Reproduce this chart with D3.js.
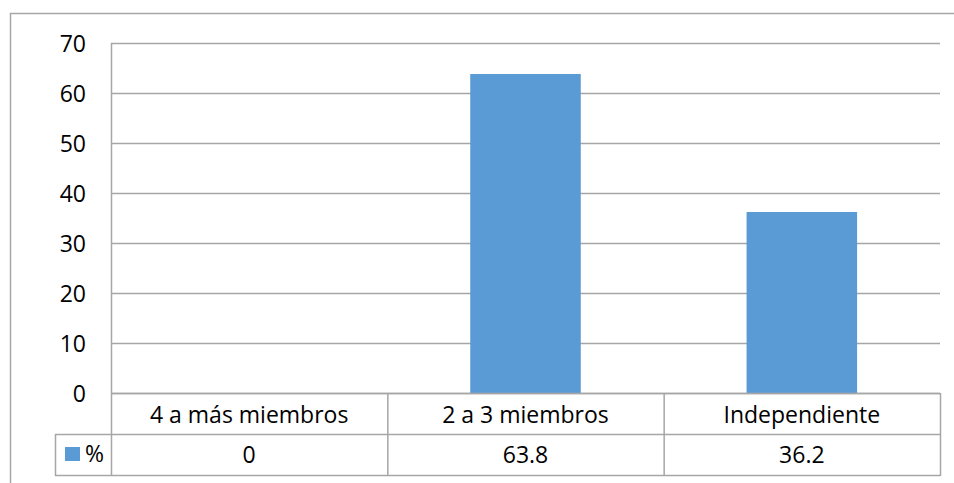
<!DOCTYPE html>
<html>
<head>
<meta charset="utf-8">
<script src="https://cdn.jsdelivr.net/npm/d3@7"></script>
<style>
  body { margin: 0; background: #fff; }
  svg text { font-family: "Open Sans", "Noto Sans", sans-serif; fill: #000; }
</style>
</head>
<body>
<div id="chart"></div>
<script>
// data
const categories = ["4 a más miembros", "2 a 3 miembros", "Independiente"];
const values = [0, 63.8, 36.2];
const valueLabels = ["0", "63.8", "36.2"];
const seriesName = "%";
const yTicks = [0, 10, 20, 30, 40, 50, 60, 70];

const W = 954, H = 483;
const plot = { left: 111, right: 940, top: 43, bottom: 393 };
const rowH = 41;
const keyLeft = 55;
const gridColor = "#a6a6a6";
const barColor = "#5b9bd5";
const fontSize = "23px";

const svg = d3.select("#chart").append("svg")
    .attr("width", W)
    .attr("height", H);

// outer chart border (top + left visible)
svg.append("path")
    .attr("d", `M10.5,${H} L10.5,13.5 L${W},13.5`)
    .attr("fill", "none")
    .attr("stroke", gridColor)
    .attr("stroke-width", 1.5);

// scales
const x = d3.scaleBand()
    .domain(categories)
    .range([plot.left, plot.right])
    .paddingInner(0)
    .paddingOuter(0);

const y = d3.scaleLinear()
    .domain([0, 70])
    .range([plot.bottom, plot.top]);

// gridlines
svg.append("g")
    .selectAll("line")
    .data(yTicks)
    .join("line")
    .attr("x1", plot.left)
    .attr("x2", plot.right)
    .attr("y1", d => Math.round(y(d)) + 0.5)
    .attr("y2", d => Math.round(y(d)) + 0.5)
    .attr("stroke", gridColor)
    .attr("stroke-width", 1.5);

// y axis labels
const yAxis = svg.append("g")
    .attr("transform", `translate(${plot.left}, 0)`)
    .call(d3.axisLeft(y).tickValues(yTicks).tickSize(0).tickPadding(25));
yAxis.select(".domain").remove();
yAxis.selectAll(".tick text")
    .attr("dy", "0.36em")
    .style("font-size", fontSize)
    .style("font-family", '"Open Sans", "Noto Sans", sans-serif')
    .attr("fill", "#000");

// bars
const bw = x.bandwidth() * 0.4;
svg.append("g")
    .selectAll("rect")
    .data(values)
    .join("rect")
    .attr("x", (d, i) => x(categories[i]) + (x.bandwidth() - bw) / 2)
    .attr("y", d => y(d))
    .attr("width", bw)
    .attr("height", d => y(0) - y(d))
    .attr("fill", barColor);

// data table lines
const table = svg.append("g")
    .attr("stroke", gridColor)
    .attr("stroke-width", 1.5)
    .attr("fill", "none");

const row1 = plot.bottom + rowH;
const row2 = row1 + rowH;
const hLines = [
  [plot.left, plot.bottom],
  [keyLeft, row1],
  [keyLeft, row2]
];
table.selectAll("line.h")
    .data(hLines)
    .join("line")
    .attr("class", "h")
    .attr("x1", d => d[0])
    .attr("x2", plot.right)
    .attr("y1", d => d[1] + 0.5)
    .attr("y2", d => d[1] + 0.5);

// left plot edge runs from top of plot down through table
table.append("line")
    .attr("x1", plot.left + 0.5).attr("x2", plot.left + 0.5)
    .attr("y1", plot.top).attr("y2", row2 + 1);

table.append("line")
    .attr("x1", keyLeft + 0.5).attr("x2", keyLeft + 0.5)
    .attr("y1", row1).attr("y2", row2 + 1);

table.selectAll("line.v")
    .data(categories)
    .join("line")
    .attr("class", "v")
    .attr("x1", d => x(d) + x.bandwidth() + 0.5)
    .attr("x2", d => x(d) + x.bandwidth() + 0.5)
    .attr("y1", plot.bottom)
    .attr("y2", row2 + 1);

// category labels
svg.append("g")
    .selectAll("text")
    .data(categories)
    .join("text")
    .attr("x", d => x(d) + x.bandwidth() / 2)
    .attr("y", plot.bottom + 30)
    .attr("text-anchor", "middle")
    .style("font-size", fontSize)
    .text(d => d);

// value labels
svg.append("g")
    .selectAll("text")
    .data(valueLabels)
    .join("text")
    .attr("x", (d, i) => x(categories[i]) + x.bandwidth() / 2)
    .attr("y", row1 + 29)
    .attr("text-anchor", "middle")
    .style("font-size", fontSize)
    .text(d => d);

// legend key
svg.append("rect")
    .attr("x", 65)
    .attr("y", 447)
    .attr("width", 15)
    .attr("height", 14)
    .attr("fill", barColor);

svg.append("text")
    .attr("x", 85)
    .attr("y", row1 + 28)
    .style("font-size", fontSize)
    .text(seriesName);
</script>
</body>
</html>
